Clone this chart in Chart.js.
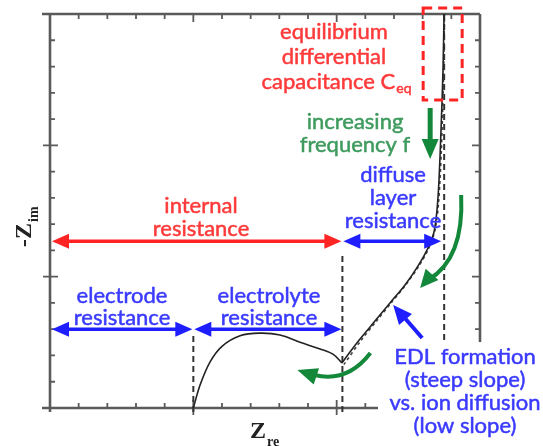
<!DOCTYPE html>
<html>
<head>
<meta charset="utf-8">
<script src="https://cdn.jsdelivr.net/npm/chart.js@4/dist/chart.umd.min.js"></script>
<style>
html,body{margin:0;padding:0;background:#fff;}
#wrap{width:543px;height:446px;}
</style>
</head>
<body>
<div id="wrap"><canvas id="c" width="543" height="446"></canvas></div>
<script>
// ---- data (axis units, 0..3 on both axes) ----
// semicircle-like arc (electrolyte region)
const arcRe = [1.0, 1.047, 1.116, 1.2, 1.326, 1.465, 1.605, 1.744, 1.884, 1.974, 2.037];
const arcIm = [0.0, 0.175, 0.35, 0.47, 0.55, 0.57, 0.556, 0.50, 0.45, 0.41, 0.343];
// rising branch (EDL formation / diffusion / capacitive)
const riseRe = [2.037, 2.093, 2.163, 2.267, 2.372, 2.477, 2.567, 2.637, 2.679, 2.70, 2.714, 2.728, 2.742, 2.749];
const riseIm = [0.343, 0.426, 0.525, 0.662, 0.80, 0.937, 1.08, 1.218, 1.34, 1.508, 1.736, 2.117, 2.574, 3.0];
// dashed fit overlay
const fitRe = [2.05, 2.17, 2.28, 2.38, 2.48, 2.57, 2.64, 2.685, 2.71, 2.73, 2.745, 2.752];
const fitIm = [0.33, 0.515, 0.665, 0.80, 0.935, 1.075, 1.21, 1.35, 1.55, 1.95, 2.5, 3.0];
const axisMax = 3;
const tickStep = 0.2;
const majorTicks = [0, 1, 2, 3];
const boundaryRe = [1.0, 2.04, 2.75];      // vertical dashed lines
const internalIm = 1.27;                   // level of internal / diffuse arrows
const partialIm = 0.6;                     // level of electrode / electrolyte arrows

const RED = '#ff2424', RED_T = '#ff3a3a';
const BLUE = '#1e1eff', BLUE_T = '#3a3aff';
const GREEN = '#13873a', GREEN_T = '#3f9b5e';
const FONT = 'Lato, "Open Sans", sans-serif';

function toPts(xs, ys){ return xs.map((x,i)=>({x:x, y:ys[i]})); }

function head(ctx, tx, ty, ang, len, w, color){
  ctx.save();
  ctx.fillStyle = color;
  ctx.beginPath();
  ctx.moveTo(tx, ty);
  ctx.lineTo(tx - len*Math.cos(ang) + (w/2)*Math.sin(ang), ty - len*Math.sin(ang) - (w/2)*Math.cos(ang));
  ctx.lineTo(tx - len*Math.cos(ang) - (w/2)*Math.sin(ang), ty - len*Math.sin(ang) + (w/2)*Math.cos(ang));
  ctx.closePath();
  ctx.fill();
  ctx.restore();
}
function dbl(ctx, x1, x2, y, color){
  ctx.save();
  ctx.strokeStyle = color; ctx.lineWidth = 3.5;
  ctx.beginPath(); ctx.moveTo(x1+10, y); ctx.lineTo(x2-10, y); ctx.stroke();
  head(ctx, x1, y, Math.PI, 17, 15, color);
  head(ctx, x2, y, 0, 17, 15, color);
  ctx.restore();
}
function txt(ctx, t, x, y){
  ctx.fillText(t, x, y);
  ctx.strokeText(t, x, y);
}
function lines(ctx, arr, cx, y0, dy, color, size){
  ctx.save();
  ctx.fillStyle = color; ctx.strokeStyle = color; ctx.lineWidth = 0.5;
  ctx.font = size + 'px ' + FONT;
  ctx.textAlign = 'center'; ctx.textBaseline = 'middle';
  arr.forEach((t,i)=>txt(ctx, t, cx, y0 + i*dy));
  ctx.restore();
}

const annot = {
  id: 'annot',
  beforeDatasetsDraw(chart){
    const ctx = chart.ctx, xs = chart.scales.x, ys = chart.scales.y;
    const L = xs.getPixelForValue(0), R = xs.getPixelForValue(axisMax);
    const B = ys.getPixelForValue(0), T = ys.getPixelForValue(axisMax);
    ctx.save();
    ctx.strokeStyle = '#5a5a5a'; ctx.lineWidth = 2.6; ctx.lineCap = 'butt';
    ctx.beginPath();
    ctx.moveTo(L-8, T); ctx.lineTo(R, T);
    ctx.moveTo(L, T); ctx.lineTo(L, B+4);
    ctx.moveTo(L-8, B); ctx.lineTo(R, B);
    ctx.moveTo(R, T); ctx.lineTo(R, B);
    ctx.stroke();
    ctx.lineWidth = 1.8;
    ctx.beginPath();
    const n = Math.round(axisMax/tickStep);
    for(let i=1;i<n;i++){
      const v = i*tickStep;
      const major = majorTicks.some(m=>Math.abs(m-v)<1e-6);
      const len = major ? 8 : 5;
      const px = xs.getPixelForValue(v), py = ys.getPixelForValue(v);
      ctx.moveTo(px, B - len); ctx.lineTo(px, B + (major?7:0));
      ctx.moveTo(px, T); ctx.lineTo(px, T + len);
      ctx.moveTo(L + len, py); ctx.lineTo(L - (major?7:0), py);
      ctx.moveTo(R - len, py); ctx.lineTo(R, py);
    }
    ctx.stroke();
    // dashed boundaries
    ctx.strokeStyle = '#333'; ctx.lineWidth = 2; ctx.setLineDash([6,4]);
    const x1 = xs.getPixelForValue(boundaryRe[0]);
    const x2 = xs.getPixelForValue(boundaryRe[1]);
    const x3 = xs.getPixelForValue(boundaryRe[2]);
    ctx.beginPath();
    ctx.moveTo(x1, B+4); ctx.lineTo(x1, ys.getPixelForValue(partialIm)+6);
    ctx.moveTo(x2, B+4); ctx.lineTo(x2, ys.getPixelForValue(internalIm)+14);
    ctx.moveTo(x3, T); ctx.lineTo(x3, B);
    ctx.stroke();
    ctx.restore();
  },
  afterDatasetsDraw(chart){
    const ctx = chart.ctx, xs = chart.scales.x, ys = chart.scales.y;
    const L = xs.getPixelForValue(0);
    const B = ys.getPixelForValue(0), T = ys.getPixelForValue(axisMax);
    const x1 = xs.getPixelForValue(boundaryRe[0]);
    const x2 = xs.getPixelForValue(boundaryRe[1]);
    const x3 = xs.getPixelForValue(boundaryRe[2]);
    const yI = ys.getPixelForValue(internalIm);
    const yP = ys.getPixelForValue(partialIm);
    dbl(ctx, L+2, x2-1, yI, RED);
    dbl(ctx, x2+1, x3-3, yI, BLUE);
    dbl(ctx, L+2, x1-1, yP, BLUE);
    dbl(ctx, x1+1, x2-1, yP, BLUE);
    ctx.save();
    ctx.strokeStyle = RED; ctx.lineWidth = 3; ctx.setLineDash([9,6]);
    ctx.strokeRect(x3-21, T-6, 39, 92);
    ctx.restore();
    ctx.save();
    ctx.strokeStyle = GREEN; ctx.lineWidth = 5;
    ctx.beginPath(); ctx.moveTo(x3-14, T+94); ctx.lineTo(x3-14, T+128); ctx.stroke();
    head(ctx, x3-14, T+145, Math.PI/2, 20, 17, GREEN);
    ctx.lineWidth = 4;
    ctx.beginPath(); ctx.moveTo(x3+17, T+181); ctx.quadraticCurveTo(x3+20, T+245, x3-16, T+266); ctx.stroke();
    head(ctx, x3-24, T+274, Math.atan2(16, -14), 18, 17, GREEN);
    ctx.beginPath(); ctx.moveTo(x2+28, B-55); ctx.quadraticCurveTo(x2+5, B-25, x2-28, B-33); ctx.stroke();
    head(ctx, x2-45, B-38, Math.atan2(-6, -18), 20, 17, GREEN);
    ctx.strokeStyle = BLUE; ctx.lineWidth = 4;
    ctx.beginPath(); ctx.moveTo(x3-22, B-70); ctx.lineTo(x3-42, B-93); ctx.stroke();
    head(ctx, x3-51, B-103, Math.atan2(-34, -29), 19, 17, BLUE);
    ctx.restore();
    // white cover under EDL text
    ctx.save();
    ctx.fillStyle = '#fff';
    ctx.fillRect(378, B-66, 200, 120);
    ctx.restore();
    // texts
    lines(ctx, ['equilibrium','differential'], 334, 32, 25, RED_T, 22);
    ctx.save();
    ctx.fillStyle = RED_T; ctx.strokeStyle = RED_T; ctx.lineWidth = 0.5; ctx.textBaseline = 'middle';
    const mainT = 'capacitance C';
    ctx.font = '22px ' + FONT;
    const w1 = ctx.measureText(mainT).width;
    ctx.font = '14px ' + FONT;
    const w2 = ctx.measureText('eq').width;
    const sx = 336 - (w1 + w2)/2;
    ctx.font = '22px ' + FONT; ctx.textAlign = 'left';
    txt(ctx, mainT, sx, 82);
    ctx.font = '14px ' + FONT;
    txt(ctx, 'eq', sx + w1 + 1, 88);
    ctx.restore();
    lines(ctx, ['increasing','frequency f'], 355, 122, 23, GREEN_T, 22);
    lines(ctx, ['diffuse','layer','resistance'], 393, 175, 23, BLUE_T, 22);
    lines(ctx, ['internal','resistance'], 201, 206, 23, RED_T, 22);
    lines(ctx, ['electrode','resistance'], 122, 296, 22, BLUE_T, 22);
    lines(ctx, ['electrolyte','resistance'], 269, 296, 22, BLUE_T, 22);
    lines(ctx, ['EDL formation','(steep slope)','vs. ion diffusion','(low slope)'], 465, 357, 23, BLUE_T, 22);
    // axis titles
    ctx.save();
    ctx.fillStyle = '#222';
    ctx.font = 'bold 24px "Liberation Serif", "DejaVu Serif", serif';
    ctx.textBaseline = 'alphabetic';
    ctx.fillText('Z', 250, 438);
    ctx.font = 'bold 14px "Liberation Serif", serif';
    ctx.fillText('re', 267, 446);
    ctx.translate(31, 247);
    ctx.rotate(-Math.PI/2);
    ctx.font = 'bold 24px "Liberation Serif", serif';
    ctx.fillText('-Z', 0, 0);
    const wz = ctx.measureText('-Z').width;
    ctx.font = 'bold 14px "Liberation Serif", serif';
    ctx.fillText('im', wz + 1, 7);
    ctx.restore();
  }
};

new Chart(document.getElementById('c'), {
  type: 'scatter',
  data: {
    datasets: [
      { data: toPts(arcRe, arcIm), showLine: true, borderColor: '#222', borderWidth: 1.6, pointRadius: 0, tension: 0.35, fill: false },
      { data: toPts(riseRe, riseIm), showLine: true, borderColor: '#222', borderWidth: 1.6, pointRadius: 0, tension: 0.3, fill: false },
      { data: toPts(fitRe, fitIm), showLine: true, borderColor: '#444', borderWidth: 1.6, borderDash: [3,3], pointRadius: 0, tension: 0.3, fill: false }
    ]
  },
  options: {
    responsive: false,
    animation: false,
    layout: { padding: { left: 50, right: 63, top: 14, bottom: 38 } },
    plugins: { legend: { display: false }, tooltip: { enabled: false } },
    scales: {
      x: { type: 'linear', min: 0, max: axisMax, display: false },
      y: { type: 'linear', min: 0, max: axisMax, display: false }
    }
  },
  plugins: [annot]
});
</script>
</body>
</html>
